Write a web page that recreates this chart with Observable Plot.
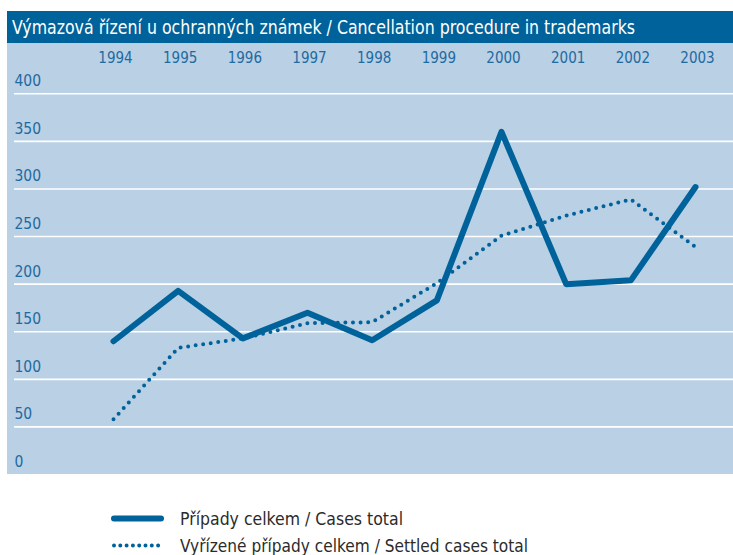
<!DOCTYPE html>
<html><head><meta charset="utf-8">
<script src="https://cdn.jsdelivr.net/npm/d3@7"></script>
<script src="https://cdn.jsdelivr.net/npm/@observablehq/plot@0.6"></script>
<style>
body{margin:0;background:#fff;width:733px;height:555px;position:relative;overflow:hidden}
.nar{font-family:"DejaVu Sans Condensed","Liberation Sans Narrow",sans-serif}
#titlebar{position:absolute;left:7px;top:11px;width:726px;height:32px;background:#00629a;overflow:hidden}
#title{position:absolute;left:5px;top:0;color:#fff;font-size:19px;line-height:32px;white-space:nowrap;transform-origin:0 50%}
#chart{position:absolute;left:7px;top:43px}
#legend{position:absolute;left:110px;top:505px;font-size:18px;color:#2b2b2b}
.row{position:relative;height:27px;line-height:27px;white-space:nowrap;width:500px}
.row svg{position:absolute;left:0;top:0}
.row span{position:absolute;left:70px;top:0;transform-origin:0 50%}
</style></head>
<body>
<div id="titlebar"><div id="title" class="nar">Výmazová řízení u ochranných známek / Cancellation procedure in trademarks</div></div>
<div id="chart"></div>
<div id="legend" class="nar"></div>
<script>
const years = [1994, 1995, 1996, 1997, 1998, 1999, 2000, 2001, 2002, 2003];
const casesTotal = [140, 193, 143, 170, 141, 183, 360, 200, 204, 302];
const settledTotal = [58, 133, 143, 159, 160, 201, 251, 272, 289, 239];
const yTicks = [0, 50, 100, 150, 200, 250, 300, 350, 400];
const gridLines = [50, 100, 150, 200, 250, 300, 350, 400];
const seriesNames = ["Případy celkem / Cases total", "Vyřízené případy celkem / Settled cases total"];

const lineColor = "#00629a";
const font = '"DejaVu Sans Condensed","Liberation Sans Narrow",sans-serif';
const cases = years.map((y, i) => ({year: y, value: casesTotal[i]}));
const settled = years.map((y, i) => ({year: y, value: settledTotal[i]}));

const chart = Plot.plot({
  width: 726, height: 431,
  marginLeft: 7, marginRight: 0, marginTop: 19, marginBottom: 0,
  style: {background: "#b9d0e5", fontFamily: font, overflow: "visible"},
  x: {type: "linear", domain: [1994, 2003], range: [106, 688], label: null},
  y: {domain: [0, 400], range: [431, 50.3], label: null},
  marks: [
    Plot.ruleY(gridLines, {stroke: "#ffffff", strokeWidth: 1.6}),
    Plot.axisY({ticks: yTicks, anchor: "left", tickSize: 0, tickPadding: 0, textAnchor: "start",
      dy: -12.6, fill: "#1f6a9f", fontSize: 15.5, label: null, tickFormat: d => String(d)}),
    Plot.axisX({ticks: years, anchor: "top", tickSize: 0, tickPadding: 0, fill: "#1f6a9f",
      fontSize: 15, label: null, dx: 2, tickFormat: d => String(d)}),
    Plot.line(settled, {x: "year", y: "value", stroke: lineColor, strokeWidth: 4,
      strokeDasharray: "0 7.6", strokeLinecap: "round"}),
    Plot.line(cases, {x: "year", y: "value", stroke: lineColor, strokeWidth: 6,
      strokeLinecap: "round", strokeLinejoin: "round"})
  ]
});
document.getElementById("chart").appendChild(chart);

function fitWidth(el, target) {
  const w = el.getBoundingClientRect().width;
  if (w > 0) el.style.transform = `scaleX(${target / w})`;
}
fitWidth(document.getElementById("title"), 623);

const legend = document.getElementById("legend");
const legendWidths = [223, 348];
seriesNames.forEach((name, i) => {
  const row = document.createElement("div");
  row.className = "row";
  const dash = i === 0 ? "" : 'stroke-dasharray="0 6.3"';
  const sw = i === 0 ? 6 : 4;
  row.innerHTML = `<svg width="60" height="27"><line x1="4" x2="51" y1="13.5" y2="13.5" stroke="${lineColor}" stroke-width="${sw}" stroke-linecap="round" ${dash}/></svg><span>${name}</span>`;
  legend.appendChild(row);
  fitWidth(row.querySelector("span"), legendWidths[i]);
});
</script>
</body></html>
